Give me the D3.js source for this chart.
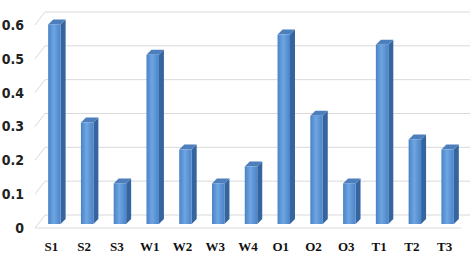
<!DOCTYPE html>
<html>
<head>
<meta charset="utf-8">
<script src="https://cdn.jsdelivr.net/npm/d3@7"></script>
<style>
  body { margin: 0; background: #fff; }
</style>
</head>
<body>
<div id="chart"></div>
<script>
// Data
const categories = ["S1", "S2", "S3", "W1", "W2", "W3", "W4", "O1", "O2", "O3", "T1", "T2", "T3"];
const values = [0.59, 0.30, 0.12, 0.50, 0.22, 0.12, 0.17, 0.56, 0.32, 0.12, 0.53, 0.25, 0.22];
const yTicks = [0, 0.1, 0.2, 0.3, 0.4, 0.5, 0.6];

const width = 471;
const height = 255;

// 3D offsets (front plane -> back wall, and bar depth)
const wall = { dx: 10, dy: -13 };
const barShift = { dx: 3, dy: -4 };
const barDepth = { dx: 5, dy: -5 };

const svg = d3.select("#chart")
    .append("svg")
    .attr("width", width)
    .attr("height", height);

// Scales (front plane)
const x = d3.scaleBand()
    .domain(categories)
    .range([35, 461])
    .paddingInner(0.62)
    .paddingOuter(0.31);

const y = d3.scaleLinear()
    .domain([0, 0.6])
    .range([228, 25]);

// Gradient for bar front faces
const defs = svg.append("defs");
const grad = defs.append("linearGradient")
    .attr("id", "barFront")
    .attr("x1", "0%").attr("y1", "0%")
    .attr("x2", "100%").attr("y2", "0%");
grad.append("stop").attr("offset", "0%").attr("stop-color", "#4a82c6");
grad.append("stop").attr("offset", "45%").attr("stop-color", "#6ea5e2");
grad.append("stop").attr("offset", "100%").attr("stop-color", "#4b84c8");

// Back wall gridlines
const grid = svg.append("g");
grid.selectAll("line.back")
    .data(yTicks)
    .join("line")
    .attr("class", "back")
    .attr("x1", 35 + wall.dx)
    .attr("x2", 470)
    .attr("y1", d => y(d) + wall.dy)
    .attr("y2", d => y(d) + wall.dy)
    .attr("stroke", "#d9d9d9")
    .attr("stroke-width", 1);

// Side wall diagonals
grid.selectAll("line.side")
    .data(yTicks)
    .join("line")
    .attr("class", "side")
    .attr("x1", 35)
    .attr("y1", d => y(d))
    .attr("x2", 35 + wall.dx)
    .attr("y2", d => y(d) + wall.dy)
    .attr("stroke", "#d9d9d9")
    .attr("stroke-width", 1);

// Floor front edge
grid.append("line")
    .attr("x1", 35)
    .attr("x2", 461)
    .attr("y1", y(0))
    .attr("y2", y(0))
    .attr("stroke", "#d9d9d9")
    .attr("stroke-width", 1);

// Bars
const bars = svg.append("g")
    .selectAll("g")
    .data(categories.map((c, i) => ({ cat: c, value: values[i] })))
    .join("g");

const bw = x.bandwidth();
const bx = d => x(d.cat) + barShift.dx;
const btop = d => y(d.value) + barShift.dy;
const bbase = y(0) + barShift.dy;

// side face
bars.append("path")
    .attr("d", d => {
        const x0 = bx(d) + bw;
        return `M${x0},${btop(d)} L${x0 + barDepth.dx},${btop(d) + barDepth.dy} ` +
            `L${x0 + barDepth.dx},${bbase + barDepth.dy} L${x0},${bbase} Z`;
    })
    .attr("fill", "#35659f");

// top face
bars.append("path")
    .attr("d", d => {
        const x0 = bx(d), t = btop(d);
        return `M${x0},${t} L${x0 + barDepth.dx},${t + barDepth.dy} ` +
            `L${x0 + bw + barDepth.dx},${t + barDepth.dy} L${x0 + bw},${t} Z`;
    })
    .attr("fill", "#4d7fbd");

// front face
bars.append("rect")
    .attr("x", bx)
    .attr("y", btop)
    .attr("width", bw)
    .attr("height", d => bbase - btop(d))
    .attr("fill", "url(#barFront)");

// Y tick labels
svg.append("g")
    .selectAll("text")
    .data(yTicks)
    .join("text")
    .attr("x", 24)
    .attr("y", d => y(d))
    .attr("dy", "0.35em")
    .attr("text-anchor", "end")
    .style("font-family", "'Liberation Sans Narrow', 'DejaVu Sans Condensed', sans-serif")
    .style("font-weight", "bold")
    .style("font-size", "14px")
    .style("fill", "#222")
    .text(d => d3.format("")(d));

// X labels
svg.append("g")
    .selectAll("text")
    .data(categories)
    .join("text")
    .attr("x", d => x(d) + bw / 2)
    .attr("y", 251)
    .attr("text-anchor", "middle")
    .style("font-family", "'Liberation Serif', 'DejaVu Serif', serif")
    .style("font-weight", "bold")
    .style("font-size", "13px")
    .style("fill", "#111")
    .text(d => d);
</script>
</body>
</html>
